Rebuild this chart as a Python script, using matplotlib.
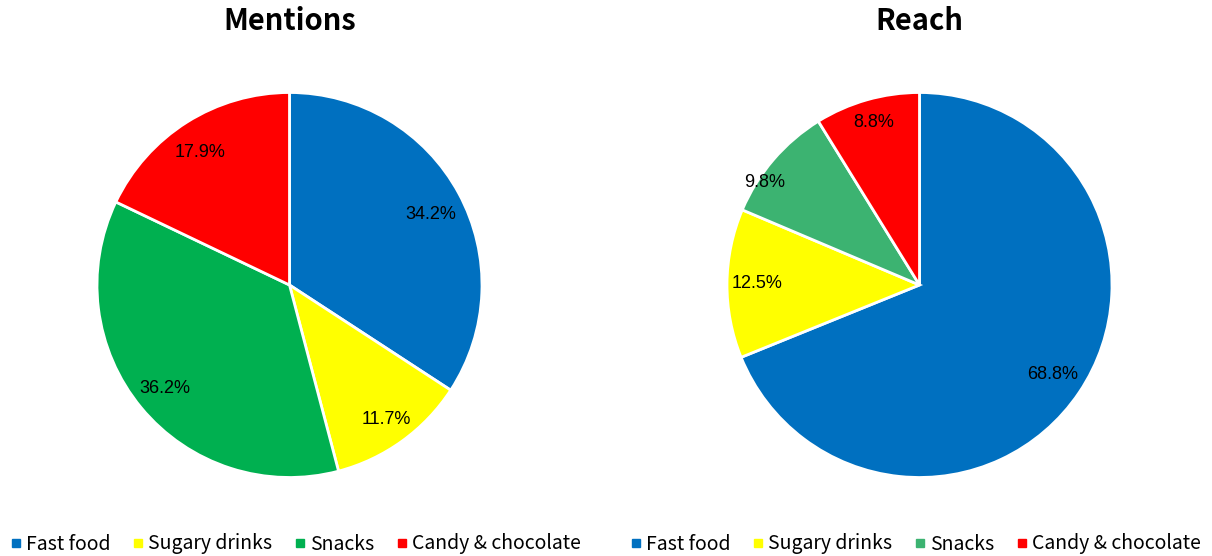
import matplotlib
matplotlib.use("Agg")
import matplotlib.pyplot as plt
from matplotlib.lines import Line2D
import numpy as np

categories = ["Fast food", "Sugary drinks", "Snacks", "Candy & chocolate"]
mentions = [34.2, 11.7, 36.2, 17.9]
reach = [68.8, 12.5, 9.8, 8.8]
titles = ["Mentions", "Reach"]
colors_left = ["#0070C0", "#FFFF00", "#00B050", "#FF0000"]
colors_right = ["#0070C0", "#FFFF00", "#3CB371", "#FF0000"]

TITLE_FONT = ["Noto Sans CJK SC", "DejaVu Sans"]
LABEL_FONT = ["Liberation Sans", "DejaVu Sans"]

fig = plt.figure(figsize=(12.12, 5.56), dpi=100)

W, H = 1212, 556
def ax_at(cx, cy, r):
    return fig.add_axes([(cx - r) / W, (H - cy - r) / H, 2 * r / W, 2 * r / H])

ax1 = ax_at(289.5, 285, 192.5)
ax2 = ax_at(919.5, 285, 192.5)

# label placement (radial distance, angular shift in degrees)
label_dist_left = [0.82, 0.86, 0.84, 0.83]
label_shift_left = [-2, 0, 0, 2]
label_dist_right = [0.833, 0.845, 0.964, 0.877]
label_shift_right = [0, 0, 7, 0]

for ax, vals, cols, title, dists, shifts in [
    (ax1, mentions, colors_left, titles[0], label_dist_left, label_shift_left),
    (ax2, reach, colors_right, titles[1], label_dist_right, label_shift_right),
]:
    wedges, _ = ax.pie(vals, colors=cols, startangle=90, counterclock=False,
                       radius=1.0,
                       wedgeprops=dict(edgecolor="white", linewidth=2))
    ax.set_xlim(-1.0, 1.0)
    ax.set_ylim(-1.0, 1.0)
    ax.set_aspect("equal")
    ax.axis("off")
    for w, v, d, s in zip(wedges, vals, dists, shifts):
        ang = np.deg2rad((w.theta1 + w.theta2) / 2 + s)
        ax.text(d * np.cos(ang), d * np.sin(ang), f"{v:.1f}%",
                ha="center", va="center", fontsize=13, family=LABEL_FONT,
                color="black")
    ax.set_title(title, fontsize=21, fontweight="bold", family=TITLE_FONT,
                 pad=45)

def make_handles(cols):
    return [Line2D([0], [0], marker="s", linestyle="none", markersize=6,
                   markerfacecolor=c, markeredgecolor=c) for c in cols]

for cols, cx in [(colors_left, 296 / W), (colors_right, 916 / W)]:
    fig.legend(make_handles(cols), categories, loc="center",
               bbox_to_anchor=(cx, 1 - 544 / H), ncol=4, frameon=False,
               prop=dict(family=TITLE_FONT, size=14, weight="medium"),
               handlelength=0.5, handletextpad=0.25, columnspacing=1.2,
               borderaxespad=0)

fig.savefig("out.png", dpi=100)
